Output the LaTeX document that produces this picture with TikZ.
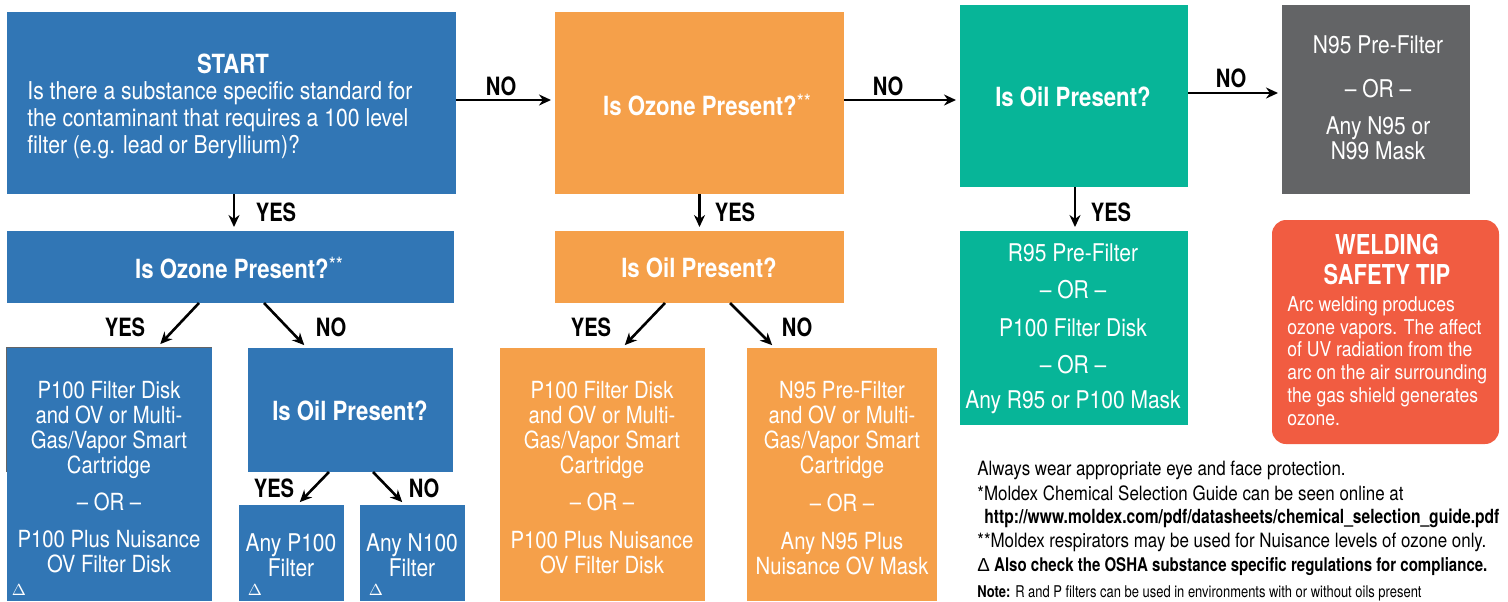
\documentclass[tikz,border=0pt]{standalone}
\usepackage{fontspec}
\setmainfont[FakeStretch=0.80]{TeX Gyre Heros}
\newfontfamily\wide[FakeStretch=0.86,Ligatures=TeX]{TeX Gyre Heros}
\newfontfamily\headf[FakeStretch=0.84]{TeX Gyre Heros}
\newfontfamily\deltafont{Liberation Serif}
\newfontfamily\deltasans{Liberation Sans}
\usetikzlibrary{arrows.meta}
\definecolor{bluebox}{HTML}{3176B5}
\definecolor{orangebox}{HTML}{F5A04A}
\definecolor{tealbox}{HTML}{07B598}
\definecolor{graybox}{HTML}{636466}
\definecolor{redbox}{HTML}{F15C41}
\newcommand{\fsz}[2]{\fontsize{#1}{#2}\selectfont}
\newcommand{\stars}{\raisebox{3.2pt}{\wide\mdseries\fontsize{10.5}{11}\selectfont **}}
\newcommand{\bx}[7][]{%
  \pgfmathsetmacro{\bw}{(#5-#3)*0.5}\pgfmathsetmacro{\bh}{(#6-#4)*0.5}%
  \node[boxbase,fill=#2,minimum width=\bw pt,minimum height=\bh pt,#1] (#7) at ({(#3+#5)/2},{(#4+#6)/2}) {};}
\tikzset{
  boxbase/.style={inner sep=0pt,outer sep=0pt,draw=none},
  arr/.style={draw=black,line width=1.3pt,-{Stealth[length=6pt,width=5.5pt]},shorten >=2pt},
  big/.style={text=white,align=center,inner sep=0pt,font=\wide\fsz{11.8}{12.5}},
  bigger/.style={text=white,align=center,inner sep=0pt,font=\wide\fsz{12.2}{12.5}},
  head/.style={text=white,align=center,inner sep=0pt,font=\headf\fsz{13.2}{14}\bfseries},
  ans/.style={text=black,inner sep=0pt,font=\fsz{12.6}{14}\bfseries},
  note/.style={text=black,anchor=base west,inner sep=0pt,font=\wide\fsz{9.85}{12}},
  tri/.style={text=white,inner sep=0pt,font=\fsz{8}{9}\deltafont},
}
\begin{document}
\begin{tikzpicture}[x=0.5pt,y=-0.5pt]
\useasboundingbox (0,0) rectangle (1508,601);
% boxes
\bx{bluebox}{7}{12}{456}{194}{start}
\bx{orangebox}{555}{12}{844}{194}{ozoneA}
\bx{tealbox}{960}{5}{1188}{187}{oilA}
\bx{graybox}{1282}{5}{1470}{194}{nine}
\bx{bluebox}{7}{231}{454}{303}{ozoneB}
\bx{orangebox}{555}{231}{844}{303}{oilO}
\bx{tealbox}{960}{231}{1188}{425}{rnine}
\bx[rounded corners=7pt]{redbox}{1272}{220}{1499}{444}{weld}
\bx{bluebox}{7}{347}{212}{601}{pblue}
\bx{bluebox}{248}{348}{453}{472}{oilB}
\bx{bluebox}{239}{505}{344}{601}{anyP}
\bx{bluebox}{360}{505}{465}{601}{anyN}
\bx{orangebox}{500}{348}{705}{601}{porange}
\bx{orangebox}{747}{348}{937}{601}{norange}
\draw[graybox,line width=0.5pt] (6,472) -- (6,347) -- (212,347);
% connectors
\draw[arr] ([yshift=1.5pt]start.east) -- ([yshift=1.5pt]ozoneA.west);
\draw[arr] ([yshift=1.5pt]ozoneA.east) -- ([yshift=-2pt]oilA.west);
\draw[arr] ([yshift=1.5pt]oilA.east) -- ([yshift=3.25pt]nine.west);
\draw[arr] ([xshift=1.25pt]start.south) -- ([xshift=1.75pt]ozoneB.north);
\draw[arr] (ozoneA.south) -- (oilO.north);
\draw[arr] ([xshift=0.5pt]oilA.south) -- ([xshift=0.5pt]rnine.north);
\draw[arr] ([xshift=-15.75pt]ozoneB.south) -- ([xshift=24pt]pblue.north);
\draw[arr] ([xshift=16.75pt]ozoneB.south) -- ([xshift=-21.75pt]oilB.north);
\draw[arr] ([xshift=-10.75pt]oilB.south) -- ([xshift=2.75pt]anyP.north);
\draw[arr] ([xshift=11.25pt]oilB.south) -- ([xshift=-3.75pt]anyN.north);
\draw[arr] ([xshift=-17.25pt]oilO.south) -- ([xshift=9.75pt]porange.north);
\draw[arr] ([xshift=15.25pt]oilO.south) -- ([xshift=-33.5pt]norange.north);
% connector labels
\node[ans] (l1) at (501,86) {NO};
\node[ans] (l2) at (888,86) {NO};
\node[ans] (l3) at (1231,78) {NO};
\node[ans] (l4) at (276,212) {YES};
\node[ans] (l5) at (735,212) {YES};
\node[ans] (l6) at (1111,212) {YES};
\node[ans] (l7) at (125,327) {YES};
\node[ans] (l8) at (331,327) {NO};
\node[ans] (l9) at (591,327) {YES};
\node[ans] (l10) at (797,327) {NO};
\node[ans] (l11) at (274,488) {YES};
\node[ans] (l12) at (424,488) {NO};
% texts
\node[head] (t1) at (233,64) {START};
\node[big,align=left,anchor=west,font=\wide\fsz{12.3}{13.6}] (t2) at (27,120) {Is there a substance specific standard for\\the contaminant that requires a 100 level\\filter (e.g. lead or Beryllium)?};
\node[head] (t3) at (707,105) {Is Ozone Present?\stars};
\node[head] (t4) at (1073,97) {Is Oil Present?};
\node[bigger] (t5) at (1378,45) {N95 Pre-Filter};
\node[bigger] (t6) at (1378,89) {-- OR --};
\node[bigger] (t7) at (1378,138) {Any N95 or\\N99 Mask};
\node[head] (t8) at (239,268) {Is Ozone Present?\stars};
\node[head] (t9) at (699,268) {Is Oil Present?};
\node[bigger] (t10) at (1073,253) {R95 Pre-Filter};
\node[bigger] (t11) at (1073,290) {-- OR --};
\node[bigger] (t12) at (1073,328) {P100 Filter Disk};
\node[bigger] (t13) at (1073,365) {-- OR --};
\node[bigger] (t14) at (1073,402) {Any R95 or P100 Mask};
\node[head,font=\fsz{13.7}{15}\bfseries] (t15) at (1387,260) {WELDING\\SAFETY TIP};
\node[big,align=left,anchor=north west,font=\wide\fsz{10.2}{11.4}] (t16) at (1287,296) {Arc welding produces\\ozone vapors. The affect\\of UV radiation from the\\arc on the air surrounding\\the gas shield generates\\ozone.};
\node[big] (t17) at (109,430) {P100 Filter Disk\\and OV or Multi-\\Gas/Vapor Smart\\Cartridge};
\node[big] (t18) at (109,502) {-- OR --};
\node[big] (t19) at (109,552) {P100 Plus Nuisance\\OV Filter Disk};
\node[head] (t20) at (350,411) {Is Oil Present?};
\node[bigger] (t21) at (291,555) {Any P100\\Filter};
\node[bigger] (t22) at (412,555) {Any N100\\Filter};
\node[big] (t23) at (602,430) {P100 Filter Disk\\and OV or Multi-\\Gas/Vapor Smart\\Cartridge};
\node[big] (t24) at (602,502) {-- OR --};
\node[big] (t25) at (602,553) {P100 Plus Nuisance\\OV Filter Disk};
\node[big] (t26) at (842,430) {N95 Pre-Filter\\and OV or Multi-\\Gas/Vapor Smart\\Cartridge};
\node[big] (t27) at (842,503) {-- OR --};
\node[big] (t28) at (842,554) {Any N95 Plus\\Nuisance OV Mask};
\node[tri] (d1) at (19,590) {$\Delta$};
\node[tri] (d2) at (255,590) {$\Delta$};
\node[tri] (d3) at (376,590) {$\Delta$};
% notes
\node[note] (n1) at (977,475) {Always wear appropriate eye and face protection.};
\node[note] (n2) at (977,500) {*Moldex Chemical Selection Guide can be seen online at};
\node[note,font=\fsz{9.75}{12}\bfseries] (n3) at (984,523) {http://www.moldex.com/pdf/datasheets/chemical\_selection\_guide.pdf};
\node[note] (n4) at (977,547) {**Moldex respirators may be used for Nuisance levels of ozone only.};
\node[note,font=\fsz{9.4}{12}\bfseries] (n5) at (977,571) {{\deltasans\mdseries\char"0394} Also check the OSHA substance specific regulations for compliance.};
\node[note,font=\fsz{8.1}{9}] (n6) at (977,597) {\textbf{Note:} R and P filters can be used in environments with or without oils present};
\end{tikzpicture}
\end{document}
